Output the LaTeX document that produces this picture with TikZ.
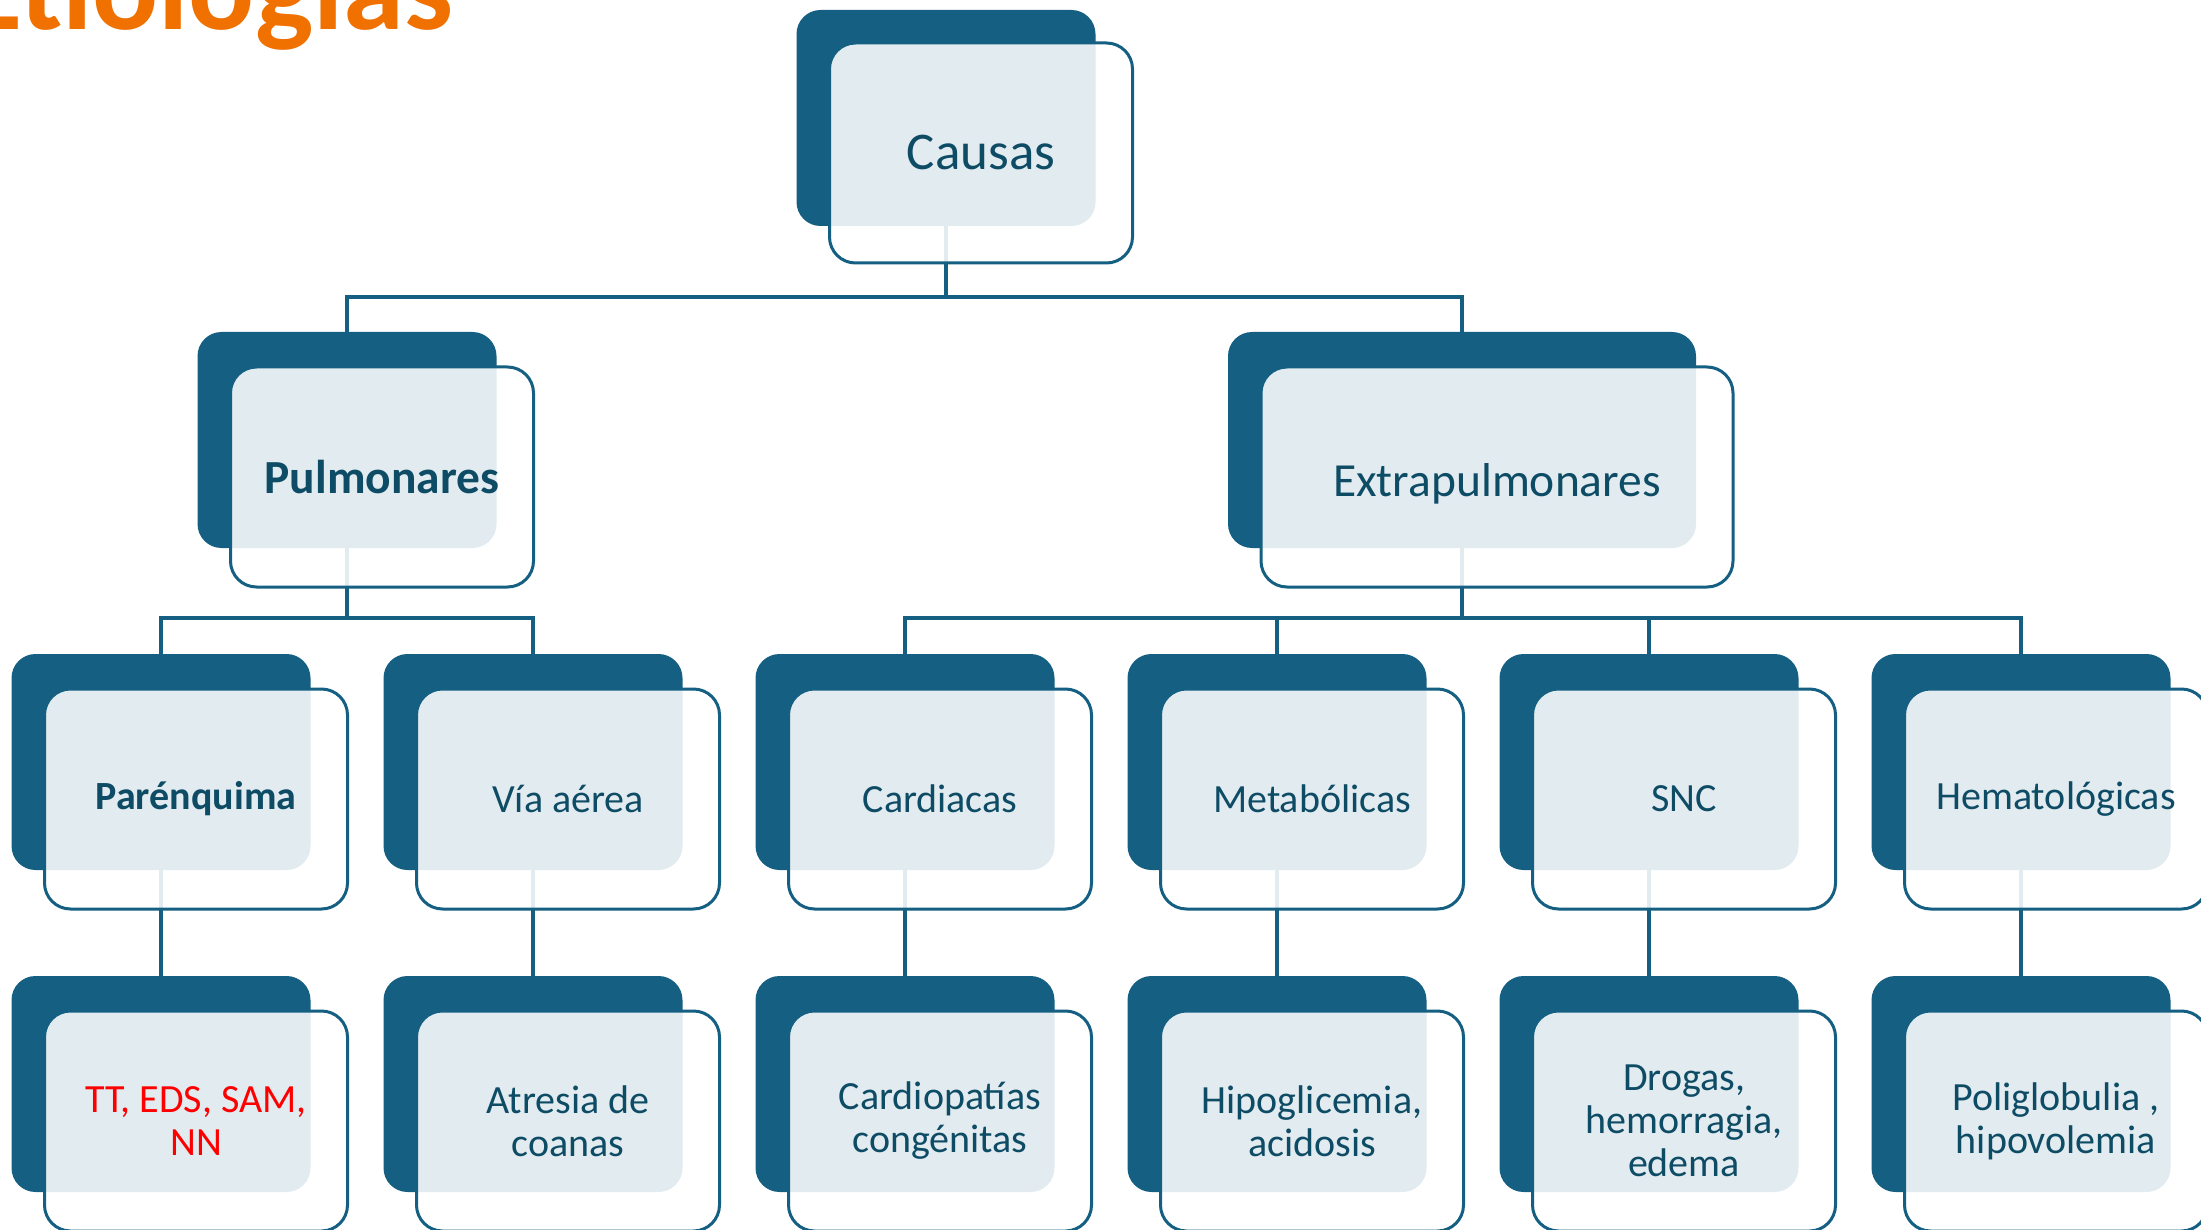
\documentclass[tikz,border=0pt]{standalone}
\usepackage{fontspec}
\setmainfont{Carlito}
\usetikzlibrary{calc, positioning}
\definecolor{boxBlue}{RGB}{21,96,130}
\definecolor{textBlue}{RGB}{14,76,102}
\definecolor{titleOrange}{RGB}{240,112,0}

\begin{document}
\begin{tikzpicture}[x=1pt, y=-1pt,
    back/.style={fill=boxBlue, rounded corners=24pt, minimum width=299pt, minimum height=216pt, inner sep=0pt},
    front/.style={draw=boxBlue, line width=3pt, fill=white, fill opacity=0.88, text opacity=1,
        rounded corners=26pt, minimum width=303pt, minimum height=220pt, inner sep=0pt,
        align=center, text=textBlue, font=\fontsize{40}{43}\selectfont},
    link/.style={draw=boxBlue, line width=3.5pt}]
    \useasboundingbox (0,0) rectangle (2201,1230);

    \node[anchor=base west, inner sep=0pt, text=titleOrange, font=\fontsize{123}{128}\selectfont\bfseries] (title) at (-38,30) {Etiologías};

    % back boxes
    \node[back] (causB) at (946,118) {};
    \node[back] (pulB) at (347,440) {};
    \node[back, minimum width=468pt] (extB) at (1462,440) {};
    \node[back] (parB) at (161,762) {};
    \node[back] (viaB) at (533,762) {};
    \node[back] (carB) at (905,762) {};
    \node[back] (metB) at (1277,762) {};
    \node[back] (sncB) at (1649,762) {};
    \node[back] (hemB) at (2021,762) {};
    \node[back] (ttB) at (161,1084) {};
    \node[back] (atrB) at (533,1084) {};
    \node[back] (cdpB) at (905,1084) {};
    \node[back] (hipB) at (1277,1084) {};
    \node[back] (droB) at (1649,1084) {};
    \node[back] (polB) at (2021,1084) {};

    \coordinate (bar1) at (0,297);
    \coordinate (bar2) at (0,618);

    % connectors
    \draw[link] (causB.south) -- (causB.south |- bar1);
    \draw[link] (pulB.north) |- (extB.north |- bar1) -- (extB.north);
    \draw[link] (pulB.south) -- (pulB.south |- bar2);
    \draw[link] (parB.north) |- (viaB.north |- bar2) -- (viaB.north);
    \draw[link] (extB.south) -- (extB.south |- bar2);
    \draw[link] (carB.north) |- (hemB.north |- bar2) -- (hemB.north);
    \draw[link] (metB.north) -- (metB.north |- bar2);
    \draw[link] (sncB.north) -- (sncB.north |- bar2);
    \draw[link] (parB.south) -- (ttB.north);
    \draw[link] (viaB.south) -- (atrB.north);
    \draw[link] (carB.south) -- (cdpB.north);
    \draw[link] (metB.south) -- (hipB.north);
    \draw[link] (sncB.south) -- (droB.north);
    \draw[link] (hemB.south) -- (polB.north);

    % front boxes
    \node[front, font=\fontsize{53}{58}\selectfont] (caus) at ([shift={(35,35)}]causB.center) {Causas};
    \node[front, font=\fontsize{47.5}{52}\selectfont\bfseries] (pul) at ([shift={(35,37)}]pulB.center) {Pulmonares};
    \node[front, font=\fontsize{47.5}{52}\selectfont, minimum width=472pt] (ext) at ([shift={(35,37)}]extB.center) {\raisebox{-7pt}[\height][\depth]{Extrapulmonares}};
    \node[front, font=\fontsize{40}{43}\selectfont\bfseries] (par) at ([shift={(35,37)}]parB.center) {Parénquima};
    \node[front] (via) at ([shift={(35,37)}]viaB.center) {Vía aérea};
    \node[front] (car) at ([shift={(35,37)}]carB.center) {Cardiacas};
    \node[front] (met) at ([shift={(35,37)}]metB.center) {Metabólicas};
    \node[front] (snc) at ([shift={(35,37)}]sncB.center) {SNC};
    \node[front] (hem) at ([shift={(35,37)}]hemB.center) {Hematológicas};
    \node[front, text=red] (tt) at ([shift={(35,37)}]ttB.center) {TT, EDS, SAM,\\NN};
    \node[front] (atr) at ([shift={(35,37)}]atrB.center) {Atresia de\\coanas};
    \node[front] (cdp) at ([shift={(35,37)}]cdpB.center) {Cardiopatías\\congénitas};
    \node[front] (hip) at ([shift={(35,37)}]hipB.center) {Hipoglicemia,\\acidosis};
    \node[front] (dro) at ([shift={(35,37)}]droB.center) {Drogas,\\hemorragia,\\edema};
    \node[front] (pol) at ([shift={(35,37)}]polB.center) {Poliglobulia ,\\hipovolemia};
\end{tikzpicture}
\end{document}
